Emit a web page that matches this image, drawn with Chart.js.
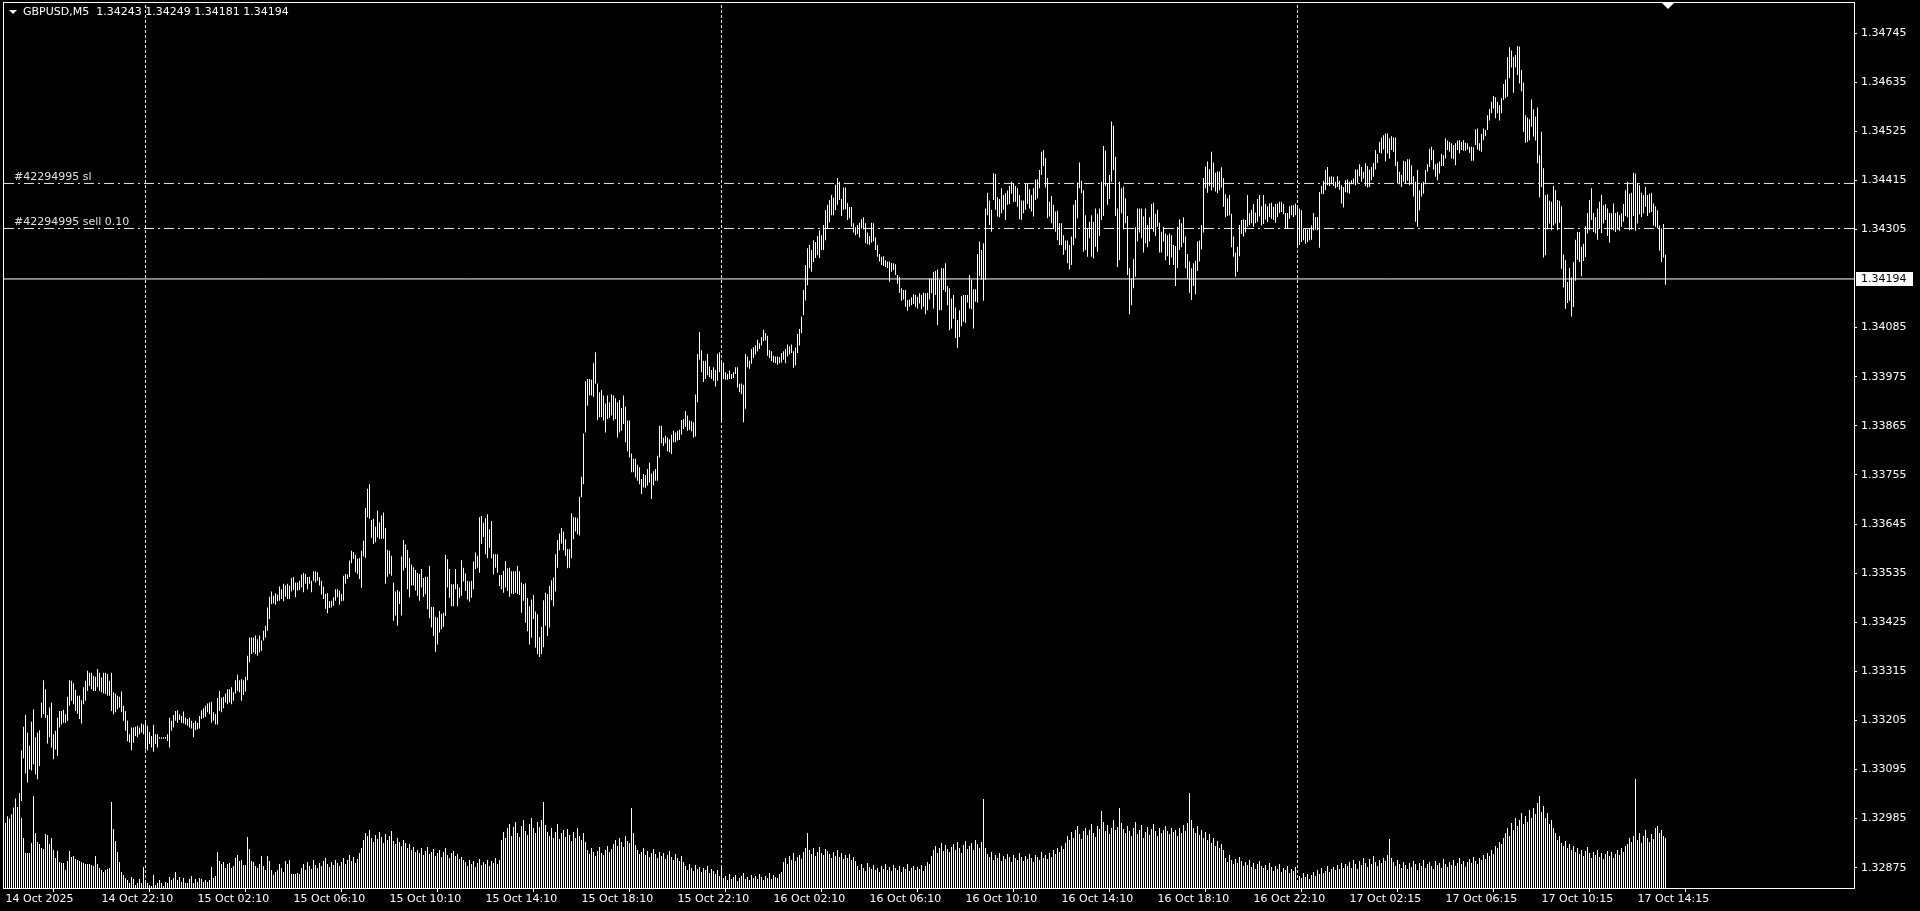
<!DOCTYPE html>
<html>
<head>
<meta charset="utf-8">
<title>GBPUSD,M5</title>
<script src="https://cdn.jsdelivr.net/npm/chart.js@4.4.1/dist/chart.umd.min.js"></script>
<style>
  html, body { margin: 0; padding: 0; background: #000; overflow: hidden; }
</style>
</head>
<body>
<canvas id="myChart" width="1920" height="911"></canvas>
<script>
//---------------------------------Dữ liệu-------------------------------//
// gia luu theo point tren 1.30000 (4249 = 1.34249), moi bar M5
var barHighs = [
  2975, 2990, 2985, 2995, 3010, 3030, 3005, 3040,
  3138, 3191, 3217, 3178, 3148, 3202, 3230, 3167, 3178, 3183,
  3245, 3295, 3275, 3217, 3234, 3245, 3174, 3182, 3211, 3226,
  3226, 3229, 3219, 3258, 3295, 3294, 3288, 3273, 3260, 3260,
  3250, 3279, 3294, 3316, 3312, 3312, 3305, 3303, 3320, 3312,
  3301, 3312, 3312, 3309, 3294, 3312, 3268, 3265, 3260, 3258,
  3270, 3238, 3226, 3205, 3174, 3189, 3189, 3191, 3193, 3189,
  3198, 3196, 3200, 3193, 3179, 3170, 3195, 3174, 3174, 3167,
  3167, 3167, 3168, 3174, 3211, 3204, 3217, 3226, 3228, 3219,
  3215, 3225, 3211, 3208, 3211, 3204, 3200, 3204, 3200, 3215,
  3228, 3232, 3238, 3243, 3245, 3247, 3223, 3219, 3255, 3271,
  3256, 3258, 3265, 3275, 3275, 3279, 3268, 3295, 3307, 3295,
  3297, 3295, 3303, 3350, 3391, 3391, 3391, 3395, 3387, 3395,
  3384, 3406, 3417, 3458, 3482, 3494, 3484, 3490, 3487, 3505,
  3499, 3511, 3507, 3511, 3507, 3524, 3526, 3514, 3514, 3518,
  3532, 3535, 3533, 3526, 3527, 3518, 3539, 3539, 3537, 3526,
  3518, 3505, 3488, 3490, 3472, 3473, 3481, 3499, 3499, 3496,
  3488, 3529, 3533, 3532, 3563, 3585, 3582, 3576, 3567, 3569,
  3585, 3608, 3681, 3724, 3734, 3654, 3657, 3639, 3675, 3649,
  3664, 3671, 3636, 3587, 3585, 3574, 3514, 3494, 3497, 3494,
  3572, 3609, 3599, 3587, 3569, 3554, 3548, 3542, 3535, 3533,
  3544, 3524, 3527, 3527, 3551, 3459, 3459, 3437, 3435, 3450,
  3444, 3446, 3576, 3566, 3544, 3510, 3510, 3544, 3510, 3503,
  3564, 3547, 3534, 3518, 3516, 3518, 3561, 3581, 3574, 3660,
  3663, 3648, 3658, 3667, 3633, 3652, 3577, 3577, 3577, 3531,
  3531, 3540, 3562, 3546, 3547, 3539, 3539, 3539, 3551, 3539,
  3514, 3510, 3512, 3479, 3461, 3476, 3486, 3449, 3443, 3392,
  3414, 3474, 3491, 3488, 3506, 3519, 3525, 3577, 3609, 3624,
  3636, 3628, 3611, 3589, 3589, 3669, 3660, 3660, 3658, 3706,
  3751, 3848, 3965, 3970, 3970, 3968, 4005, 4030, 3960, 3940,
  3945, 3933, 3915, 3933, 3918, 3935, 3933, 3927, 3918, 3923,
  3905, 3933, 3908, 3877, 3877, 3803, 3791, 3791, 3778, 3772,
  3746, 3757, 3755, 3768, 3783, 3758, 3763, 3768, 3798, 3865,
  3865, 3838, 3843, 3839, 3835, 3845, 3854, 3850, 3854, 3856,
  3878, 3880, 3898, 3888, 3877, 3875, 3873, 3935, 4026, 4075,
  4034, 4011, 4011, 4026, 3998, 3990, 3996, 3990, 4026, 4030,
  4010, 4007, 3985, 3981, 3989, 3981, 3985, 3996, 3996, 3959,
  3960, 3957, 4026, 4020, 4011, 4037, 4041, 4045, 4058, 4050,
  4064, 4080, 4073, 4067, 4035, 4032, 4022, 4020, 4020, 4019,
  4028, 4032, 4037, 4047, 4043, 4047, 4032, 4040, 4071, 4082,
  4110, 4169, 4225, 4263, 4270, 4259, 4281, 4277, 4290, 4303,
  4292, 4315, 4348, 4360, 4371, 4382, 4376, 4405, 4420, 4412,
  4373, 4399, 4399, 4364, 4355, 4355, 4319, 4310, 4315, 4320,
  4328, 4332, 4319, 4298, 4290, 4320, 4319, 4287, 4270, 4250,
  4244, 4245, 4236, 4233, 4233, 4230, 4229, 4227, 4203, 4199,
  4173, 4169, 4169, 4147, 4148, 4153, 4160, 4158, 4154, 4162,
  4158, 4163, 4162, 4163, 4195, 4195, 4210, 4212, 4215, 4193,
  4218, 4218, 4229, 4178, 4173, 4150, 4158, 4130, 4102, 4124,
  4156, 4158, 4158, 4158, 4203, 4192, 4171, 4171, 4250, 4278,
  4259, 4274, 4352, 4387, 4370, 4349, 4431, 4429, 4377, 4373,
  4397, 4382, 4386, 4392, 4402, 4412, 4408, 4402, 4397, 4382,
  4370, 4370, 4407, 4407, 4395, 4382, 4397, 4417, 4417, 4438,
  4479, 4483, 4465, 4420, 4367, 4380, 4360, 4345, 4347, 4319,
  4319, 4292, 4280, 4280, 4270, 4289, 4360, 4371, 4410, 4455,
  4414, 4393, 4337, 4307, 4322, 4337, 4322, 4352, 4340, 4352,
  4412, 4492, 4482, 4408, 4427, 4547, 4537, 4468, 4352, 4412,
  4397, 4401, 4375, 4335, 4218, 4195, 4238, 4310, 4352, 4352,
  4352, 4334, 4352, 4315, 4332, 4362, 4365, 4340, 4349, 4320,
  4300, 4311, 4296, 4292, 4296, 4292, 4270, 4268, 4311, 4328,
  4319, 4332, 4289, 4250, 4233, 4218, 4229, 4235, 4278, 4280,
  4315, 4420, 4446, 4457, 4440, 4479, 4455, 4432, 4435, 4435,
  4444, 4420, 4384, 4375, 4382, 4340, 4289, 4253, 4266, 4315,
  4326, 4328, 4326, 4382, 4341, 4349, 4362, 4343, 4373, 4382,
  4357, 4382, 4362, 4357, 4363, 4365, 4356, 4362, 4363, 4367,
  4367, 4362, 4342, 4342, 4357, 4359, 4359, 4363, 4356, 4352,
  4348, 4307, 4307, 4305, 4307, 4314, 4342, 4333, 4333, 4389,
  4402, 4414, 4438, 4445, 4423, 4424, 4423, 4412, 4424, 4414,
  4404, 4400, 4415, 4417, 4412, 4415, 4419, 4439, 4439, 4451,
  4445, 4434, 4453, 4447, 4439, 4445, 4454, 4483, 4474, 4501,
  4511, 4516, 4520, 4520, 4509, 4514, 4511, 4511, 4457, 4434,
  4427, 4459, 4457, 4462, 4462, 4449, 4424, 4412, 4438, 4393,
  4409, 4412, 4438, 4451, 4486, 4490, 4483, 4451, 4453, 4457,
  4474, 4471, 4509, 4504, 4501, 4498, 4494, 4498, 4504, 4505,
  4501, 4505, 4499, 4498, 4490, 4490, 4489, 4529, 4531, 4498,
  4519, 4531, 4528, 4561, 4574, 4591, 4604, 4601, 4591, 4584,
  4599, 4631, 4641, 4691, 4713, 4706, 4692, 4696, 4716, 4715,
  4662, 4634, 4561, 4556, 4552, 4596, 4574, 4558, 4578, 4471,
  4524, 4442, 4382, 4384, 4369, 4367, 4402, 4393, 4371, 4369,
  4357, 4249, 4236, 4187, 4219, 4197, 4232, 4282, 4299, 4299,
  4266, 4273, 4312, 4342, 4371, 4397, 4342, 4333, 4352, 4367,
  4382, 4359, 4362, 4352, 4342, 4341, 4363, 4342, 4344, 4337,
  4341, 4362, 4393, 4412, 4385, 4387, 4432, 4430, 4409, 4404,
  4387, 4382, 4400, 4382, 4385, 4387, 4363, 4357, 4348, 4314,
  4307, 4317, 4249
];
var barLows = [
  2935, 2940, 2925, 2950, 2965, 2980, 2960, 2990,
  3024, 3120, 3086, 3066, 3095, 3093, 3107, 3084, 3073, 3103,
  3211, 3219, 3211, 3153, 3167, 3144, 3118, 3140, 3125, 3189,
  3196, 3200, 3200, 3204, 3238, 3249, 3241, 3226, 3220, 3208,
  3198, 3241, 3249, 3271, 3282, 3275, 3271, 3271, 3279, 3271,
  3268, 3265, 3264, 3260, 3260, 3226, 3219, 3223, 3230, 3234,
  3223, 3204, 3182, 3158, 3155, 3138, 3155, 3170, 3167, 3174,
  3178, 3174, 3140, 3138, 3152, 3144, 3135, 3152, 3144, 3164,
  3164, 3164, 3164, 3159, 3144, 3182, 3189, 3204, 3200, 3206,
  3200, 3198, 3196, 3193, 3189, 3187, 3167, 3183, 3185, 3187,
  3208, 3211, 3213, 3223, 3219, 3200, 3204, 3196, 3196, 3226,
  3223, 3232, 3245, 3241, 3245, 3241, 3249, 3265, 3271, 3268,
  3249, 3262, 3270, 3295, 3335, 3354, 3357, 3354, 3350, 3357,
  3361, 3384, 3391, 3406, 3432, 3466, 3467, 3464, 3472, 3473,
  3477, 3472, 3482, 3477, 3477, 3494, 3497, 3481, 3496, 3497,
  3503, 3492, 3511, 3499, 3511, 3492, 3518, 3514, 3518, 3507,
  3487, 3477, 3455, 3445, 3457, 3458, 3462, 3473, 3481, 3464,
  3472, 3473, 3511, 3522, 3526, 3557, 3567, 3537, 3533, 3522,
  3502, 3572, 3569, 3660, 3657, 3614, 3600, 3604, 3615, 3612,
  3612, 3612, 3511, 3527, 3533, 3529, 3428, 3440, 3417, 3466,
  3440, 3541, 3547, 3499, 3481, 3507, 3507, 3496, 3484, 3473,
  3503, 3482, 3488, 3454, 3434, 3413, 3394, 3359, 3375, 3402,
  3409, 3414, 3439, 3503, 3480, 3461, 3461, 3499, 3461, 3480,
  3484, 3516, 3495, 3476, 3471, 3480, 3499, 3544, 3547, 3536,
  3600, 3616, 3577, 3568, 3592, 3568, 3532, 3547, 3536, 3506,
  3499, 3491, 3503, 3495, 3482, 3489, 3488, 3491, 3488, 3486,
  3446, 3473, 3424, 3405, 3375, 3390, 3432, 3368, 3353, 3347,
  3353, 3369, 3417, 3394, 3413, 3474, 3461, 3494, 3547, 3586,
  3601, 3586, 3574, 3546, 3547, 3568, 3611, 3628, 3622, 3619,
  3705, 3734, 3850, 3910, 3933, 3933, 3930, 3959, 3878, 3884,
  3884, 3877, 3850, 3880, 3883, 3888, 3877, 3880, 3839, 3850,
  3854, 3869, 3828, 3808, 3794, 3761, 3761, 3749, 3742, 3734,
  3712, 3727, 3726, 3731, 3738, 3701, 3731, 3742, 3742, 3794,
  3826, 3820, 3826, 3808, 3806, 3802, 3828, 3828, 3832, 3833,
  3845, 3858, 3863, 3854, 3856, 3853, 3839, 3841, 3918, 4013,
  3985, 3963, 3970, 3978, 3974, 3970, 3966, 3953, 3966, 3985,
  3878, 3970, 3968, 3968, 3970, 3970, 3972, 3981, 3951, 3940,
  3936, 3873, 3903, 3996, 3993, 4004, 4017, 4025, 4032, 4037,
  4045, 4055, 4056, 4022, 4017, 4010, 4007, 4005, 4002, 4005,
  4007, 4013, 4005, 4020, 4025, 4028, 3995, 4000, 4028, 4045,
  4073, 4113, 4146, 4180, 4218, 4210, 4232, 4241, 4247, 4241,
  4259, 4259, 4281, 4308, 4321, 4337, 4337, 4348, 4360, 4371,
  4335, 4349, 4350, 4326, 4330, 4311, 4298, 4292, 4295, 4287,
  4307, 4305, 4274, 4272, 4270, 4275, 4278, 4259, 4244, 4233,
  4225, 4223, 4221, 4218, 4188, 4210, 4214, 4203, 4183, 4163,
  4145, 4148, 4132, 4123, 4132, 4135, 4138, 4132, 4128, 4139,
  4126, 4132, 4115, 4124, 4148, 4162, 4128, 4158, 4091, 4124,
  4124, 4169, 4165, 4135, 4079, 4083, 4105, 4061, 4040, 4064,
  4088, 4098, 4096, 4141, 4128, 4126, 4083, 4143, 4141, 4200,
  4193, 4145, 4192, 4337, 4315, 4300, 4371, 4349, 4334, 4332,
  4341, 4349, 4326, 4360, 4362, 4385, 4367, 4367, 4356, 4328,
  4326, 4341, 4349, 4362, 4352, 4345, 4334, 4371, 4375, 4397,
  4427, 4447, 4399, 4330, 4334, 4319, 4307, 4300, 4281, 4270,
  4270, 4248, 4259, 4229, 4215, 4225, 4270, 4285, 4330, 4397,
  4386, 4255, 4259, 4244, 4285, 4244, 4240, 4266, 4255, 4290,
  4326, 4335, 4402, 4360, 4373, 4412, 4438, 4335, 4221, 4236,
  4341, 4305, 4319, 4203, 4115, 4135, 4173, 4199, 4278, 4298,
  4285, 4253, 4274, 4265, 4278, 4307, 4300, 4290, 4311, 4253,
  4253, 4278, 4236, 4245, 4225, 4242, 4225, 4178, 4218, 4259,
  4265, 4275, 4218, 4195, 4163, 4147, 4178, 4160, 4212, 4233,
  4260, 4298, 4397, 4387, 4402, 4393, 4399, 4390, 4386, 4393,
  4399, 4356, 4332, 4335, 4337, 4265, 4244, 4199, 4210, 4245,
  4295, 4289, 4298, 4311, 4315, 4319, 4311, 4319, 4322, 4334,
  4314, 4317, 4327, 4322, 4333, 4329, 4326, 4320, 4333, 4342,
  4344, 4339, 4307, 4307, 4329, 4337, 4333, 4337, 4266, 4270,
  4277, 4281, 4273, 4277, 4281, 4282, 4303, 4305, 4303, 4264,
  4385, 4384, 4393, 4404, 4402, 4406, 4402, 4397, 4400, 4394,
  4363, 4354, 4389, 4387, 4385, 4406, 4406, 4404, 4408, 4424,
  4412, 4419, 4402, 4399, 4400, 4415, 4423, 4439, 4454, 4477,
  4475, 4484, 4457, 4475, 4464, 4483, 4479, 4447, 4408, 4406,
  4400, 4412, 4408, 4414, 4404, 4406, 4379, 4322, 4311, 4348,
  4379, 4385, 4406, 4434, 4445, 4460, 4439, 4423, 4415, 4430,
  4447, 4447, 4464, 4483, 4479, 4464, 4462, 4449, 4483, 4475,
  4483, 4481, 4481, 4484, 4477, 4459, 4459, 4494, 4484, 4481,
  4479, 4505, 4514, 4528, 4549, 4565, 4576, 4554, 4565, 4549,
  4565, 4595, 4599, 4602, 4644, 4668, 4611, 4668, 4651, 4632,
  4614, 4524, 4499, 4501, 4505, 4535, 4513, 4504, 4453, 4377,
  4400, 4242, 4247, 4305, 4318, 4303, 4314, 4318, 4303, 4320,
  4217, 4175, 4127, 4140, 4145, 4110, 4131, 4190, 4237, 4232,
  4200, 4234, 4243, 4296, 4303, 4326, 4299, 4296, 4282, 4309,
  4297, 4318, 4326, 4290, 4275, 4305, 4303, 4299, 4305, 4302,
  4311, 4322, 4335, 4332, 4303, 4305, 4335, 4302, 4318, 4339,
  4333, 4341, 4356, 4335, 4342, 4344, 4314, 4311, 4307, 4257,
  4232, 4242, 4181
];
// tick volume moi bar
var tickVolumes = [
  50, 70, 65, 65, 65, 86, 81, 95, 70, 50,
  35, 35, 35, 45, 92, 55, 46, 44, 40, 39,
  54, 53, 44, 50, 38, 30, 37, 26, 25, 25,
  18, 27, 37, 31, 32, 29, 28, 27, 26, 25,
  24, 24, 24, 23, 22, 32, 24, 20, 18, 16,
  18, 19, 20, 86, 59, 47, 36, 26, 16, 13,
  10, 8, 5, 11, 9, 3, 5, 9, 5, 21,
  6, 5, 3, 2, 13, 3, 5, 8, 5, 2,
  6, 5, 11, 8, 10, 16, 8, 11, 6, 10,
  5, 5, 9, 12, 5, 9, 6, 10, 9, 6,
  8, 6, 8, 21, 10, 12, 36, 27, 24, 26,
  20, 24, 25, 20, 22, 30, 33, 27, 28, 23,
  23, 51, 39, 27, 26, 22, 20, 24, 32, 22,
  18, 32, 27, 18, 13, 16, 18, 24, 20, 16,
  27, 24, 28, 14, 14, 14, 15, 14,
  20, 24, 18, 26, 22, 19, 28, 23, 20, 25,
  22, 27, 30, 24, 21, 26, 23, 28, 25, 22,
  26, 30, 24, 28, 33, 27, 31, 25, 29, 35,
  40, 48, 55, 52, 58, 50, 46, 53, 49, 56,
  51, 45, 54, 48, 52, 57, 47, 44, 50, 46,
  42, 48, 45, 40, 44, 38, 41, 36,
  38, 35, 40, 33, 37, 41, 34, 36, 39, 32,
  35, 38, 31, 36, 40, 33, 30, 35, 37, 32,
  34, 29, 31, 28,
  26, 22, 28, 24, 27, 21, 25, 29, 23, 26,
  24, 28, 22, 27, 25, 30, 24, 28,
  48, 56, 50, 60, 64, 52, 61, 66, 55, 51,
  62, 68, 57, 53, 64, 70, 60, 55, 66, 61,
  68, 86,
  63, 56, 52, 60, 50, 56, 64, 49, 55, 58,
  51, 59, 53, 47, 56, 50, 60, 52, 48, 55, 46,
  38, 34, 40, 36, 32, 37, 41, 35, 33, 38, 42, 36, 39,
  44, 48, 42, 50, 46, 41, 52, 47, 45, 80, 55, 43,
  38, 34, 36, 40, 33, 37, 31, 35, 39, 34,
  30, 36, 32, 35, 29, 33, 37, 31, 28, 34, 30, 27, 32, 26,
  22, 18, 24, 20, 17, 23, 19, 21, 16, 20, 18, 22, 15, 19, 17, 14, 18, 12, 20,
  10, 12, 8, 14, 9, 11, 13, 7, 10, 12,
  15, 9, 11, 8, 13, 10, 12, 9, 14, 11,
  8, 12, 10, 15, 9, 13, 11, 10, 14, 16,
  26, 30, 24, 32, 28, 35, 27, 31, 33, 29, 36, 40,
  55,
  38, 34, 40, 32, 36, 41, 35, 33, 39, 37,
  34, 30, 36, 32, 38, 31, 35, 29, 33, 30, 34, 28, 31, 27,
  22, 18, 24, 20, 17, 25, 21, 19, 23, 18,
  20, 16, 22, 19, 24, 18, 21, 17, 23, 20,
  18, 22, 16, 21, 19, 24, 17, 20, 22, 18,
  21, 19, 23, 17, 22, 26, 24,
  32, 38, 42, 35, 40, 45, 37, 43, 39, 36,
  41, 44, 38, 46, 40, 35, 43, 47, 39, 42,
  45, 38, 48, 44, 40, 46,
  89,
  40, 34, 31, 36, 28, 33, 30, 35, 27, 32,
  29, 34, 31, 26, 33, 30, 28, 35, 31, 27,
  32, 29, 34, 30, 26, 33, 31, 28, 36, 30,
  33, 29, 35, 31, 38, 34, 40, 36, 42, 39,
  45, 52, 48, 56, 50, 58, 62, 54, 49, 57,
  60, 53, 58, 64, 55, 51, 62, 59, 77, 66,
  57, 63, 54, 60, 68, 58, 61, 80, 65, 59,
  55, 62, 57, 52, 60, 66, 54, 58, 63, 50,
  56, 61, 53, 59, 64, 57, 52, 60, 55, 58,
  62, 57, 54, 60, 56,
  58, 52, 60, 55, 63, 57, 65, 95, 68, 60,
  55, 62, 53, 58, 50, 56, 48, 54, 45, 50,
  42, 47, 40, 44, 38,
  30, 26, 33, 28, 24, 29, 25, 31, 27, 22,
  26, 23, 28, 21, 25, 19, 24, 27, 22, 20,
  23, 18, 25, 21, 17, 22, 19, 24, 16, 20,
  18, 22, 15, 19, 17, 21,
  8, 12, 10, 15, 11, 14, 9, 13, 16, 12,
  18, 14, 20, 15, 17, 22, 16, 19, 21, 18,
  23, 19, 25, 20, 24,
  22, 26, 20, 28, 24, 19, 27, 23, 30, 25,
  21, 29, 24, 32, 26, 22, 28, 25, 30, 27, 33,
  49,
  30, 26, 22, 28, 24, 20, 26, 23, 19, 25,
  21, 27, 24, 18, 25, 22, 28, 20, 24, 26,
  22, 19, 27, 23, 25, 20, 29, 24, 21, 26,
  23, 28, 22, 25, 30, 24, 27, 21, 26, 29,
  25, 31, 27, 24, 30, 28, 33, 29, 35, 32,
  38, 34, 42, 40, 46, 44, 50,
  55, 60, 52, 65, 58, 70, 62, 68, 75, 64,
  72, 66, 78, 70, 80, 74, 85, 92, 76, 82,
  70, 75, 64, 68, 60,
  55, 48, 52, 45, 42, 47, 40, 44, 38, 42,
  36, 40, 34, 38, 32, 37, 41, 35, 30, 36,
  33, 38, 31, 35, 29, 34, 37, 32, 36, 30,
  34, 38, 33, 40, 36, 42,
  44, 50, 46, 52,
  109,
  48, 55, 45, 52, 58, 50, 46, 54, 49, 60, 62, 55, 58, 52, 50
];

var timeLabels = ['14 Oct 2025', '14 Oct 22:10', '15 Oct 02:10', '15 Oct 06:10', '15 Oct 10:10',
  '15 Oct 14:10', '15 Oct 18:10', '15 Oct 22:10', '16 Oct 02:10', '16 Oct 06:10', '16 Oct 10:10',
  '16 Oct 14:10', '16 Oct 18:10', '16 Oct 22:10', '17 Oct 02:15', '17 Oct 06:15', '17 Oct 10:15',
  '17 Oct 14:15'];
var barsPerLabel = 48;
var priceTicks = [1.32875, 1.32985, 1.33095, 1.33205, 1.33315, 1.33425, 1.33535, 1.33645,
  1.33755, 1.33865, 1.33975, 1.34085, 1.34305, 1.34415, 1.34525, 1.34635, 1.34745];
var dayStarts = [70, 358, 646];          // bar dau ngay 15, 16, 17 Oct
var slPrice = 1.34408;
var sellPrice = 1.34307;
var lastBar = {open: 1.34243, high: 1.34249, low: 1.34181, close: 1.34194};

var priceMin = 1.328295, priceMax = 1.348145;
var slotMin = -0.75, slotMax = 924.25;   // con trong ben phai (chart shift)
var volumeMax = 886;

//---------------------------------Tạo dataset-------------------------------//
var priceBars = [];
for (var i = 0; i < barHighs.length; i++) {
  priceBars.push({x: i, y: [1.3 + barLows[i] / 100000, 1.3 + barHighs[i] / 100000]});
}
var volumeBars = [];
for (var i = 0; i < tickVolumes.length; i++) {
  volumeBars.push({x: i, y: tickVolumes[i]});
}

function hLine(price, dash) {
  return {
    type: 'line', order: 2, data: [{x: slotMin, y: price}, {x: slotMax, y: price}],
    borderColor: '#e8e8e8', borderWidth: 1, borderDash: dash, pointRadius: 0, yAxisID: 'y'
  };
}
function vLine(idx) {
  return {
    type: 'line', order: 2, data: [{x: idx, y: priceMin}, {x: idx, y: priceMax}],
    borderColor: '#e8e8e8', borderWidth: 1, borderDash: [3, 2], pointRadius: 0, yAxisID: 'y'
  };
}

var datasets = [
  {type: 'bar', order: 0, data: priceBars, backgroundColor: '#ffffff', barThickness: 1,
    borderWidth: 0, inflateAmount: 0, grouped: false, yAxisID: 'y'},
  {type: 'bar', order: 1, data: volumeBars, backgroundColor: '#ffffff', barThickness: 1,
    borderWidth: 0, inflateAmount: 0, grouped: false, yAxisID: 'y1'},
  hLine(slPrice, [10, 4, 2, 4]),
  hLine(sellPrice, [10, 4, 2, 4]),
  {type: 'line', order: 2, data: [{x: slotMin, y: lastBar.close}, {x: slotMax, y: lastBar.close}],
    borderColor: '#ffffff', borderWidth: 1, pointRadius: 0, yAxisID: 'y'}
];
for (var d = 0; d < dayStarts.length; d++) datasets.push(vLine(dayStarts[d]));

//---------------------------------Vẽ chữ, khung-------------------------------//
var terminalLook = {
  id: 'terminalLook',
  afterDraw: function(chart) {
    var ctx = chart.ctx, a = chart.chartArea, ys = chart.scales.y;
    ctx.save();
    ctx.strokeStyle = '#ffffff';
    ctx.lineWidth = 1;
    ctx.strokeRect(a.left - 0.5, a.top + 0.5, a.right - a.left + 1, a.bottom - a.top);

    ctx.font = '11px "DejaVu Sans"';
    ctx.fillStyle = '#ffffff';
    ctx.textBaseline = 'middle';
    // header
    ctx.beginPath();
    ctx.moveTo(9, 10); ctx.lineTo(17, 10); ctx.lineTo(13, 14); ctx.closePath(); ctx.fill();
    ctx.fillText('GBPUSD,M5  ' + lastBar.open.toFixed(5) + ' ' + lastBar.high.toFixed(5) + ' ' +
      lastBar.low.toFixed(5) + ' ' + lastBar.close.toFixed(5), 23, 12);
    // chart shift marker
    ctx.beginPath();
    ctx.moveTo(1662, 3); ctx.lineTo(1674, 3); ctx.lineTo(1668, 9); ctx.closePath(); ctx.fill();

    // order labels
    ctx.fillStyle = '#e0e0e0';
    ctx.textBaseline = 'bottom';
    ctx.fillText('#42294995 sl', 14, ys.getPixelForValue(slPrice) - 1);
    ctx.fillText('#42294995 sell 0.10', 14, ys.getPixelForValue(sellPrice) - 1);

    // nhan gia hien tai
    var py = Math.round(ys.getPixelForValue(lastBar.close));
    ctx.fillStyle = '#ffffff';
    ctx.fillRect(a.right + 2, py - 7, 57, 14);
    ctx.fillStyle = '#000000';
    ctx.textBaseline = 'middle';
    ctx.fillText(lastBar.close.toFixed(5), a.right + 7, py);
    ctx.restore();
  }
};

new Chart('myChart', {
  type: 'bar',
  data: {datasets: datasets},
  plugins: [terminalLook],
  options: {
    responsive: false,
    animation: false,
    devicePixelRatio: 1,
    layout: {padding: {left: 4, top: 2, right: 0, bottom: 0}},
    plugins: {legend: {display: false}, tooltip: {enabled: false}},
    scales: {
      x: {
        type: 'linear', min: slotMin, max: slotMax, offset: false,
        afterFit: function(s) { s.height = 23; s.paddingLeft = 0; s.paddingRight = 0; },
        afterBuildTicks: function(s) {
          s.ticks = timeLabels.map(function(t, k) { return {value: k * barsPerLabel}; });
        },
        grid: {display: true, drawOnChartArea: false, tickLength: 4, color: '#ffffff'},
        border: {display: false},
        ticks: {
          color: '#ffffff', font: {family: 'DejaVu Sans', size: 11}, align: 'start',
          maxRotation: 0, autoSkip: false, padding: 1,
          callback: function(v) { return timeLabels[Math.round(v / barsPerLabel)]; }
        }
      },
      y: {
        position: 'right', min: priceMin, max: priceMax,
        afterFit: function(s) { s.width = 66; s.paddingTop = 0; s.paddingBottom = 0; },
        afterBuildTicks: function(s) {
          s.ticks = priceTicks.map(function(v) { return {value: v}; });
        },
        grid: {display: true, drawOnChartArea: false, tickLength: 3, color: '#ffffff'},
        border: {display: false},
        ticks: {
          color: '#ffffff', font: {family: 'DejaVu Sans', size: 11}, autoSkip: false, padding: 4,
          callback: function(v) { return v.toFixed(5); }
        }
      },
      y1: {display: false, min: 0, max: volumeMax}
    }
  }
});
</script>
</body>
</html>
